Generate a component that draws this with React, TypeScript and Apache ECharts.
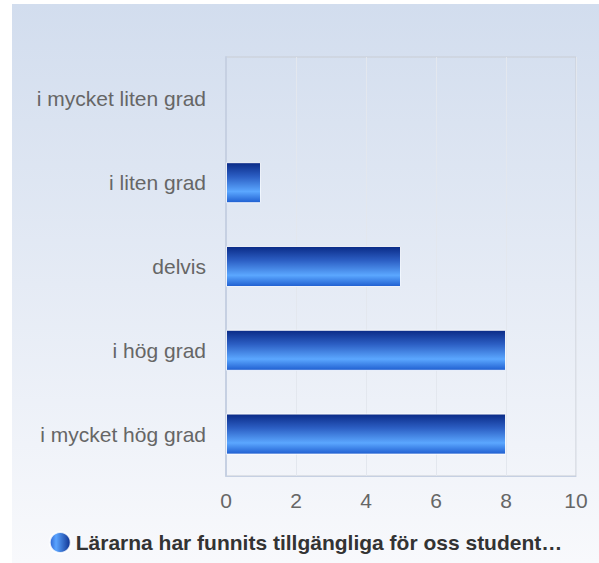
import React, { useEffect, useRef } from "react";
import * as echarts from "echarts";

const categories = ["i mycket hög grad", "i hög grad", "delvis", "i liten grad", "i mycket liten grad"];
const values = [8, 8, 5, 1, 0];
const seriesName = "Lärarna har funnits tillgängliga för oss student…";
const axisMin = 0;
const axisMax = 10;
const axisInterval = 2;

export default function App() {
  const ref = useRef<HTMLDivElement>(null);
  useEffect(() => {
    if (!ref.current) return;
    const chart = echarts.init(ref.current, null, { renderer: "svg" });
    const barGrad = new echarts.graphic.LinearGradient(0, 0, 0, 1, [
      { offset: 0, color: "#0a2a86" },
      { offset: 0.35, color: "#2c5fc4" },
      { offset: 0.72, color: "#5ba7ff" },
      { offset: 1, color: "#1f5ed0" },
    ]);
    const iconGrad = new echarts.graphic.LinearGradient(0, 0, 1, 0, [
      { offset: 0, color: "#2a62d0" },
      { offset: 0.3, color: "#5aa4ff" },
      { offset: 1, color: "#0c2f8e" },
    ]);
    const font = "Liberation Sans, Arial, sans-serif";
    chart.setOption({
      animation: false,
      backgroundColor: new echarts.graphic.LinearGradient(0, 0, 0, 1, [
        { offset: 0, color: "#d2ddee" },
        { offset: 1, color: "#f8f9fc" },
      ]),
      textStyle: { fontFamily: font },
      grid: {
        left: 214,
        right: 23,
        top: 53,
        bottom: 87,
        show: true,
        borderColor: "#c9cdd4",
        borderWidth: 1,
        backgroundColor: "transparent",
      },
      legend: {
        show: true,
        left: "center",
        bottom: 4,
        icon: "circle",
        itemWidth: 21,
        itemHeight: 21,
        itemGap: 6,
        textStyle: { fontSize: 21, fontWeight: "bold", color: "#333333", fontFamily: font },
        data: [{ name: seriesName, itemStyle: { color: iconGrad } }],
      },
      xAxis: {
        type: "value",
        min: axisMin,
        max: axisMax,
        interval: axisInterval,
        axisLine: { show: true, lineStyle: { color: "#c6d0e2" } },
        axisTick: { show: false },
        axisLabel: { color: "#666666", fontSize: 21, margin: 14 },
        splitLine: { show: true, lineStyle: { color: "#e3e7ee", width: 1 } },
      },
      yAxis: {
        type: "category",
        data: categories,
        axisLine: { show: true, lineStyle: { color: "#c6d0e2", width: 2 } },
        axisTick: { show: false },
        axisLabel: { color: "#666666", fontSize: 21, margin: 20, padding: [4, 0, 0, 0] },
        splitLine: { show: false },
      },
      series: [
        {
          name: seriesName,
          type: "bar",
          data: values.map((v) => ({ value: v, itemStyle: v === 0 ? { borderWidth: 0 } : {} })),
          barWidth: 41,
          itemStyle: { color: barGrad, borderColor: "rgba(255,255,255,0.85)", borderWidth: 1 },
        },
      ],
    });
    return () => chart.dispose();
  }, []);
  return (
    <div
      ref={ref}
      style={{ position: "absolute", left: 12, top: 4, width: 587, height: 559 }}
    />
  );
}
